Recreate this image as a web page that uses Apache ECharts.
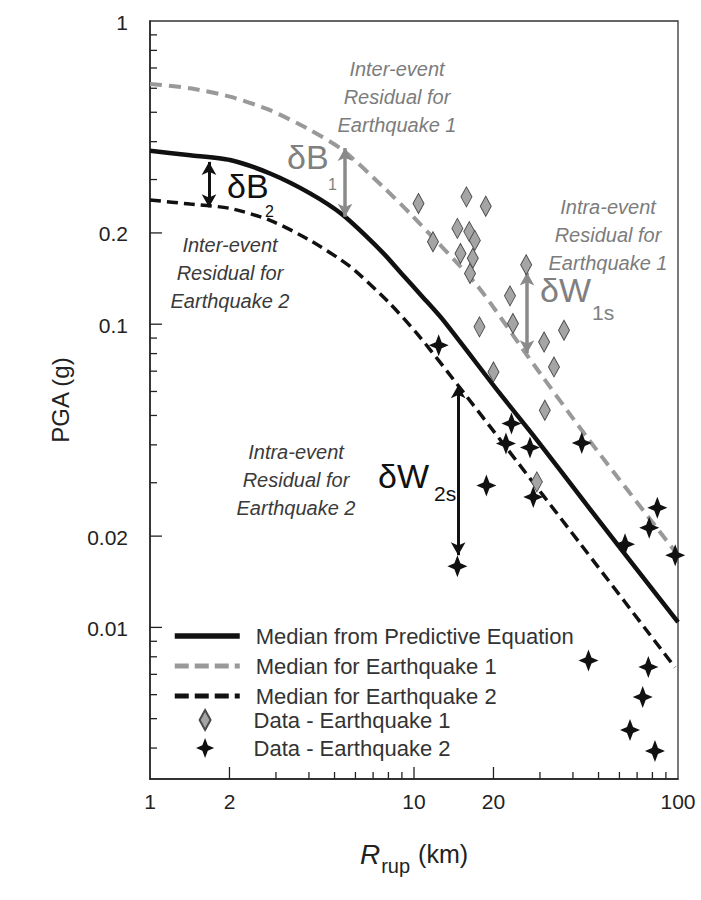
<!DOCTYPE html>
<html>
<head>
<meta charset="utf-8">
<script src="https://cdn.jsdelivr.net/npm/echarts@6/dist/echarts.min.js"></script>
<style>
  html, body { margin: 0; padding: 0; background: #fff; }
  #chart { width: 701px; height: 900px; }
</style>
</head>
<body>
<div id="chart"></div>
<script>
// Median ground-motion curves: rupture distance (km) and PGA (g)
const medianR   = [1, 1.42, 2.01, 2.85, 4.04, 5.38, 7.63, 9.0, 10.8, 12.9, 21.1, 28.3, 45.2, 100];
const medianPGA = [0.373, 0.361, 0.348, 0.314, 0.270, 0.229, 0.172, 0.1464, 0.1228, 0.1031, 0.0592, 0.0430, 0.0253, 0.0104];

const eq1R   = [1, 1.42, 2.01, 2.85, 4.04, 5.38, 7.63, 9.65, 17.3, 26.8, 45.2, 100];
const eq1PGA = [0.620, 0.600, 0.563, 0.508, 0.437, 0.375, 0.284, 0.232, 0.1345, 0.0790, 0.0424, 0.0173];

const eq2R   = [1, 1.42, 2.01, 2.85, 4.04, 5.72, 8.1, 10.55, 14.67, 22.3, 42.6, 97.4];
const eq2PGA = [0.257, 0.249, 0.241, 0.220, 0.189, 0.155, 0.117, 0.0905, 0.0629, 0.0393, 0.0189, 0.00738];

// Recorded motions
const eq1DataR   = [10.4, 15.8, 18.7, 11.8, 14.6, 16.2, 17.0, 15.0, 16.7, 16.3, 26.6, 23.1, 17.7, 23.7, 31.1, 37.0, 33.9, 20.0, 31.3, 29.2];
const eq1DataPGA = [0.250, 0.263, 0.245, 0.187, 0.207, 0.202, 0.189, 0.171, 0.165, 0.147, 0.157, 0.124, 0.098, 0.1005, 0.0874, 0.0955, 0.0723, 0.0696, 0.0520, 0.0302];

const eq2DataR   = [12.4, 23.4, 22.3, 27.5, 43.2, 18.8, 28.3, 14.6, 63.0, 83.5, 77.8, 97.6, 45.8, 77.2, 73.5, 65.8, 81.8];
const eq2DataPGA = [0.0853, 0.0470, 0.0404, 0.0392, 0.0406, 0.0294, 0.0269, 0.0159, 0.0188, 0.0248, 0.0213, 0.0173, 0.00778, 0.0074, 0.00589, 0.00459, 0.00391];

// Residual arrows: distance, upper end, lower end
const arrowNames  = ['δB2', 'δB1', 'δW1s', 'δW2s'];
const arrowR      = [1.673, 5.48, 26.8, 14.7];
const arrowTop    = [0.343, 0.381, 0.148, 0.0629];
const arrowBottom = [0.243, 0.226, 0.0802, 0.0173];

// Axis ranges and ticks
const R_MIN = 1, R_MAX = 100;
const PGA_MIN = 0.0031623, PGA_MAX = 1;
const xMajorTicks = [2, 10, 20];
const xMinorTicks = [3, 4, 5, 6, 7, 8, 9, 30, 40, 50, 60, 70, 80, 90];
const xLabelValues = [1, 2, 10, 20, 100];
const xLabelText   = ['1', '2', '10', '20', '100'];
const yMajorTicks = [0.01, 0.02, 0.1, 0.2];
const yMinorTicks = [0.004, 0.005, 0.006, 0.007, 0.008, 0.009, 0.03, 0.04, 0.05, 0.06, 0.07, 0.08, 0.09, 0.3, 0.4, 0.5, 0.6, 0.7, 0.8, 0.9];
const yLabelValues = [1, 0.2, 0.1, 0.02, 0.01];
const yLabelText   = ['1', '0.2', '0.1', '0.02', '0.01'];

const FONT = '"Liberation Sans", Arial, Helvetica, sans-serif';
const INK = '#222';

const DIAMOND = 'path://M5.5,0 L11,10 L5.5,20 L0,10 Z';
const STAR = 'path://M10,0 L13,8 L20,11 L13,14 L10,22 L7,14 L0,11 L7,8 Z';

const pairs = (xs, ys) => xs.map((x, i) => [x, ys[i]]);

const chart = echarts.init(document.getElementById('chart'), null, { renderer: 'svg' });

const xTickData = xMajorTicks.map(v => [v, PGA_MIN, 12]).concat(xMinorTicks.map(v => [v, PGA_MIN, 7]));
const yTickData = yMajorTicks.map(v => [R_MIN, v, 12]).concat(yMinorTicks.map(v => [R_MIN, v, 7]));

const arrowLine = (i, color, width) => ({
  name: arrowNames[i],
  type: 'line',
  data: [],
  silent: true,
  markLine: {
    silent: true,
    symbol: ['arrow', 'arrow'],
    symbolSize: [11, 13],
    label: { show: false },
    lineStyle: { color: color, width: width, type: 'solid' },
    data: [[{ coord: [arrowR[i], arrowTop[i]] }, { coord: [arrowR[i], arrowBottom[i]] }]]
  }
});

const note = (x, y, text, color) => ({
  type: 'text', x: x, y: y, silent: true,
  style: {
    text: text, fill: color, align: 'center', verticalAlign: 'middle',
    font: 'italic 20px ' + FONT, lineHeight: 28
  }
});
const sym = (x, y, text, color, size) => ({
  type: 'text', x: x, y: y, silent: true,
  style: { text: text, fill: color, align: 'left', verticalAlign: 'middle', font: size + 'px ' + FONT }
});

const legendText = { color: '#333', fontSize: 22, fontFamily: FONT, lineHeight: 20, padding: [0, 0, 0, 11] };

chart.setOption({
  animation: false,
  backgroundColor: '#fff',
  grid: { left: 150, right: 23, top: 21, bottom: 121, show: true, borderColor: '#333', borderWidth: 1.3 },
  xAxis: {
    type: 'log', logBase: 10, min: R_MIN, max: R_MAX,
    axisLine: { show: true, lineStyle: { color: INK, width: 1.5 } },
    axisTick: { show: false }, axisLabel: { show: false }, splitLine: { show: false }, minorTick: { show: false },
    name: '{it|R}{sub|rup}{t| (km)}',
    nameLocation: 'middle', nameGap: 53,
    nameTextStyle: {
      color: INK, fontSize: 25, fontFamily: FONT,
      rich: {
        it: { fontStyle: 'italic', fontSize: 28, fontFamily: FONT, color: INK },
        sub: { fontSize: 20, fontFamily: FONT, color: INK, padding: [24, 1, 0, 1] },
        t: { fontSize: 25, fontFamily: FONT, color: INK }
      }
    }
  },
  yAxis: {
    type: 'log', logBase: 10, min: PGA_MIN, max: PGA_MAX,
    axisLine: { show: true, lineStyle: { color: INK, width: 1.5 } },
    axisTick: { show: false }, axisLabel: { show: false }, splitLine: { show: false }, minorTick: { show: false }
  },
  legend: [
    {
      orient: 'vertical', left: 172, top: 625, padding: 0,
      itemWidth: 65, itemHeight: 20, itemGap: 8,
      textStyle: legendText,
      data: [
        { name: 'Median from Predictive Equation', itemStyle: { opacity: 0 }, lineStyle: { width: 5.5 } },
        { name: 'Median for Earthquake 1', itemStyle: { opacity: 0 }, lineStyle: { width: 5, type: [14, 6] } },
        { name: 'Median for Earthquake 2', itemStyle: { opacity: 0 }, lineStyle: { width: 5, type: [14, 6] } }
      ]
    },
    {
      orient: 'vertical', left: 196, top: 709, padding: 0,
      itemWidth: 65, itemHeight: 20, itemGap: 6,
      textStyle: legendText,
      data: [
        { name: 'Data - Earthquake 1', icon: DIAMOND },
        { name: 'Data - Earthquake 2', icon: STAR }
      ]
    }
  ],
  graphic: [
    {
      type: 'text', x: 60, y: 400, rotation: Math.PI / 2, silent: true,
      style: { text: 'PGA (g)', fill: INK, align: 'center', verticalAlign: 'middle', font: '24px ' + FONT }
    },
    note(397, 97, 'Inter-event\nResidual for\nEarthquake 1', '#7c7c7c'),
    note(230, 273, 'Inter-event\nResidual for\nEarthquake 2', '#3a3a3a'),
    note(608, 235, 'Intra-event\nResidual for\nEarthquake 1', '#7c7c7c'),
    note(296, 480, 'Intra-event\nResidual for\nEarthquake 2', '#3a3a3a'),
    sym(287, 157, 'δB', '#808080', 34), sym(328, 184, '1', '#808080', 16),
    sym(227, 186, 'δB', '#111', 34), sym(265, 211, '2', '#111', 16),
    sym(540, 290, 'δW', '#808080', 34), sym(592, 312, '1s', '#808080', 21),
    sym(378, 476, 'δW', '#111', 34), sym(434, 493, '2s', '#111', 21)
  ],
  series: [
    {
      name: 'Median from Predictive Equation', type: 'line', smooth: 0.25, symbol: 'none', z: 4,
      lineStyle: { color: '#111', width: 4.5 }, itemStyle: { color: '#111' },
      data: pairs(medianR, medianPGA)
    },
    {
      name: 'Median for Earthquake 1', type: 'line', smooth: 0.25, symbol: 'none', z: 3,
      lineStyle: { color: '#999', width: 4, type: [12, 7] }, itemStyle: { color: '#999' },
      data: pairs(eq1R, eq1PGA)
    },
    {
      name: 'Median for Earthquake 2', type: 'line', smooth: 0.25, symbol: 'none', z: 3,
      lineStyle: { color: '#111', width: 3.5, type: [11, 6] }, itemStyle: { color: '#111' },
      data: pairs(eq2R, eq2PGA)
    },
    {
      name: 'Data - Earthquake 1', type: 'scatter', symbol: DIAMOND, symbolSize: [11, 20], clip: false, z: 5,
      itemStyle: { color: '#a5a5a5', borderColor: '#4a4a4a', borderWidth: 1, opacity: 1 },
      data: pairs(eq1DataR, eq1DataPGA)
    },
    {
      name: 'Data - Earthquake 2', type: 'scatter', symbol: STAR, symbolSize: [20, 22], clip: false, z: 5,
      itemStyle: { color: '#111', opacity: 1 },
      data: pairs(eq2DataR, eq2DataPGA)
    },
    arrowLine(0, '#111', 3),
    arrowLine(1, '#8a8a8a', 3.5),
    arrowLine(2, '#8a8a8a', 3.5),
    arrowLine(3, '#111', 3),
    {
      type: 'custom', clip: false, silent: true, z: 6,
      data: xTickData,
      renderItem: (params, api) => {
        const p = api.coord([api.value(0), api.value(1)]);
        return { type: 'line', shape: { x1: p[0], y1: p[1], x2: p[0], y2: p[1] - api.value(2) },
                 style: { stroke: INK, lineWidth: 1.3 } };
      }
    },
    {
      type: 'custom', clip: false, silent: true, z: 6,
      data: yTickData,
      renderItem: (params, api) => {
        const p = api.coord([api.value(0), api.value(1)]);
        return { type: 'line', shape: { x1: p[0], y1: p[1], x2: p[0] + api.value(2), y2: p[1] },
                 style: { stroke: INK, lineWidth: 1.3 } };
      }
    },
    {
      type: 'custom', clip: false, silent: true, z: 6,
      data: xLabelValues.map(v => [v, PGA_MIN]),
      renderItem: (params, api) => {
        const p = api.coord([api.value(0), api.value(1)]);
        return { type: 'text', x: p[0], y: p[1] + 22,
                 style: { text: xLabelText[params.dataIndex], align: 'center', verticalAlign: 'middle',
                          font: '21px ' + FONT, fill: INK } };
      }
    },
    {
      type: 'custom', clip: false, silent: true, z: 6,
      data: yLabelValues.map(v => [R_MIN, v]),
      renderItem: (params, api) => {
        const p = api.coord([api.value(0), api.value(1)]);
        return { type: 'text', x: p[0] - 22, y: p[1] + 1,
                 style: { text: yLabelText[params.dataIndex], align: 'right', verticalAlign: 'middle',
                          font: '21px ' + FONT, fill: INK } };
      }
    }
  ]
});
</script>
</body>
</html>
